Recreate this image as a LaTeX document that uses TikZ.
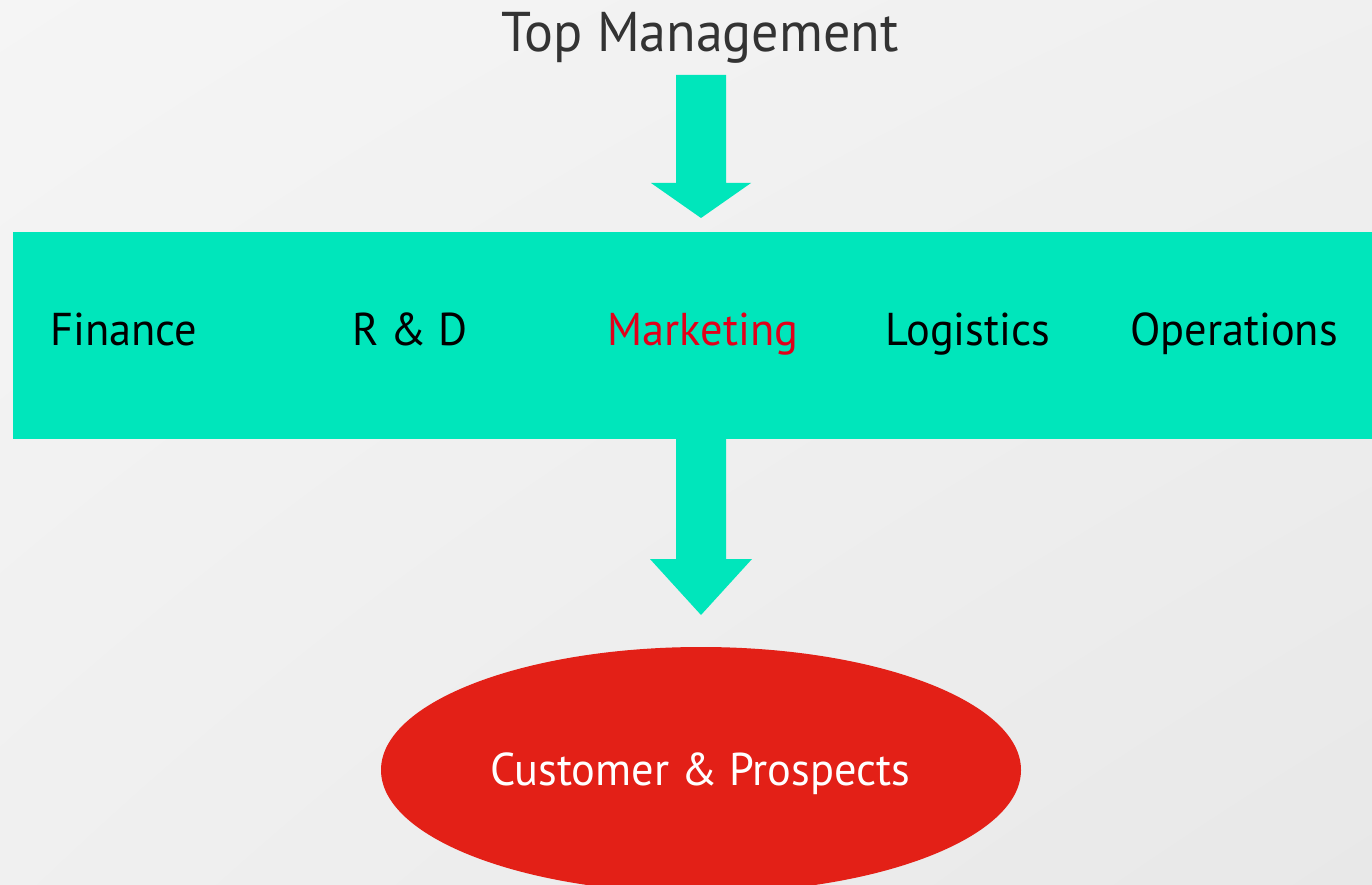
\documentclass[tikz,border=0pt]{standalone}
\usepackage{fontspec}
\setmainfont{PT Sans}
\usetikzlibrary{shapes.geometric,shadings}
\definecolor{teal}{RGB}{0,230,187}
\definecolor{redfill}{RGB}{227,32,23}
\definecolor{redtext}{RGB}{226,0,26}
\definecolor{darktext}{RGB}{51,51,51}
% slightly narrowed lettering
\newcommand{\narrow}[1]{\scalebox{0.965}[1]{#1}}
\begin{document}
\begin{tikzpicture}[x=1pt,y=-1pt,
  lbl/.style={inner sep=0pt, font=\fontsize{46}{50}\selectfont, anchor=base},
  fat/.style={fill=teal, draw=none}]
% background
\shade[upper left=white!96!black, upper right=white!94!black,
       lower left=white!94!black, lower right=white!91!black]
  (0,0) rectangle (1372,885);
\useasboundingbox (0,0) rectangle (1372,885);
% heading
\node[lbl, font=\fontsize{56}{60}\selectfont, text=darktext] (top) at (700,52) {\narrow{Top Management}};
% top block arrow
\fill[fat] (676,75) -- (726,75) -- (726,183) -- (751,183) -- (701,218)
  -- (651,183) -- (676,183) -- cycle;
% functions band
\node[fat, minimum width=1359pt, minimum height=207pt, inner sep=0pt, anchor=north west] (band) at (13,232) {};
\node[lbl] (fin) at (124,345) {\narrow{Finance}};
\node[lbl] (rd) at (410,345) {\narrow{R \& D}};
\node[lbl, text=redtext] (mkt) at (703,345) {\narrow{Marketing}};
\node[lbl] (log) at (968,345) {\narrow{Logistics}};
\node[lbl] (ops) at (1234,345) {\narrow{Operations}};
% lower block arrow
\fill[fat] (676,439) -- (726,439) -- (726,559) -- (752,559) -- (701,615)
  -- (650,559) -- (676,559) -- cycle;
% customers
\node[ellipse, fill=redfill, minimum width=640pt, minimum height=246pt, inner sep=0pt] (cust) at (701,770) {};
\node[lbl, text=white] (custl) at (700,785) {\narrow{Customer \& Prospects}};
\end{tikzpicture}
\end{document}
